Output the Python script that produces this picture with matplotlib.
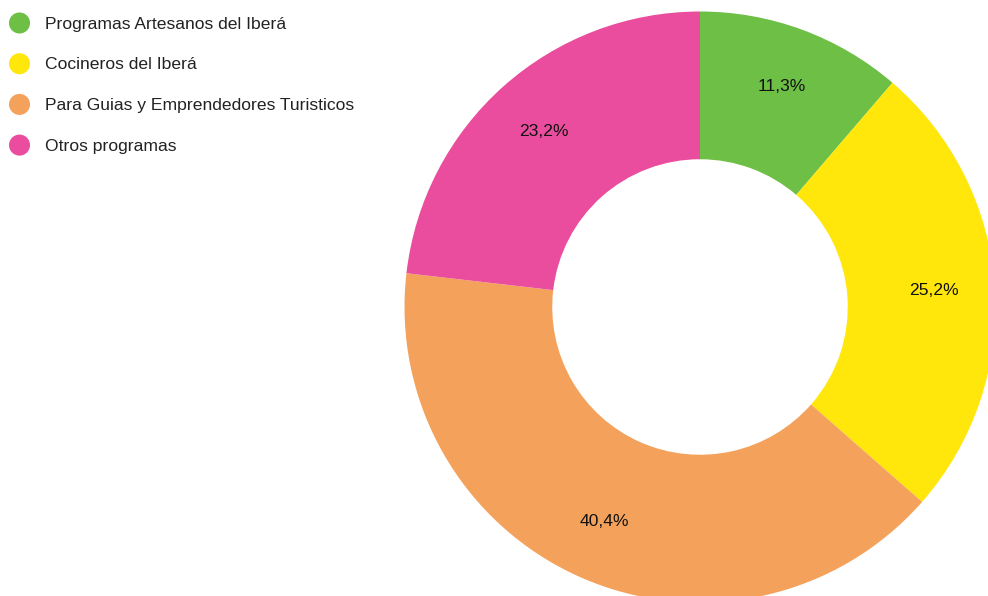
import matplotlib
matplotlib.use("Agg")
from matplotlib import pyplot as plt

plt.rcParams['font.family'] = ['Liberation Sans', 'DejaVu Sans']

categories = ["Programas Artesanos del Iberá", "Cocineros del Iberá",
              "Para Guias y Emprendedores Turisticos", "Otros programas"]
values = [11.3, 25.2, 40.4, 23.2]
colors = ["#6DBF45", "#FFE60B", "#F4A15B", "#EA4D9D"]

W, H = 988, 596
fig = plt.figure(figsize=(W / 100, H / 100), dpi=100)

# donut: centre (700, 307) px from top-left, radius ~295 px
cx, cy, r = 700, 307, 295.5
ax = fig.add_axes([(cx - r) / W, (H - cy - r) / H, 2 * r / W, 2 * r / H])
wedges, texts, autotexts = ax.pie(
    values, colors=colors, startangle=90, counterclock=False, radius=1,
    wedgeprops=dict(width=0.5, linewidth=0),
    autopct=lambda p: f"{p:.1f}".replace(".", ",") + "%", pctdistance=0.795,
    textprops=dict(fontsize=12.6, color="#111111"))
ax.set_xlim(-1, 1)
ax.set_ylim(-1, 1)
ax.set_aspect("equal")
ax.axis("off")

# legend drawn in pixel coordinates
lax = fig.add_axes([0, 0, 1, 1])
lax.set_xlim(0, W)
lax.set_ylim(H, 0)
lax.axis("off")
for i, (name, col) in enumerate(zip(categories, colors)):
    y = 23 + i * 40.7
    lax.scatter([19.5], [y], s=21 ** 2 * 0.52, color=col, edgecolors="none")
    lax.text(45, y + 1, name, fontsize=12.6, color="#222222", va="center", ha="left")

fig.savefig("out.png", dpi=100)
